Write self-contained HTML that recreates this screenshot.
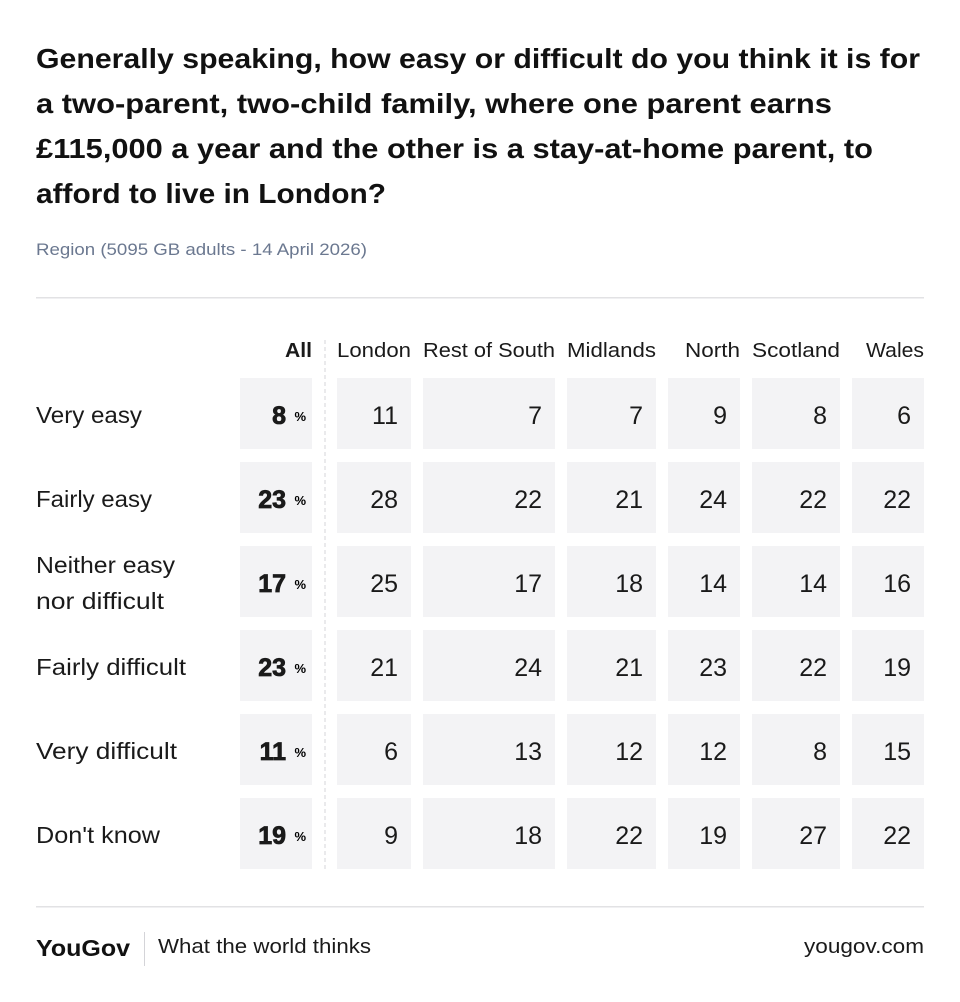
<!DOCTYPE html>
<html><head><meta charset="utf-8"><style>
html,body{margin:0;padding:0;background:#fff}
svg{display:block}
text{font-family:"Liberation Sans",sans-serif}
</style></head><body>
<svg width="960" height="1002" viewBox="0 0 960 1002" xmlns="http://www.w3.org/2000/svg">
<g font-weight="bold" font-size="28" fill="#111">
<text x="36" y="68" textLength="884" lengthAdjust="spacingAndGlyphs">Generally speaking, how easy or difficult do you think it is for</text>
<text x="36" y="113" textLength="796" lengthAdjust="spacingAndGlyphs">a two-parent, two-child family, where one parent earns</text>
<text x="36" y="158" textLength="837" lengthAdjust="spacingAndGlyphs">£115,000 a year and the other is a stay-at-home parent, to</text>
<text x="36" y="203" textLength="350" lengthAdjust="spacingAndGlyphs">afford to live in London?</text>
</g>
<text x="36" y="255" font-size="16.5" fill="#6b7890" textLength="331" lengthAdjust="spacingAndGlyphs">Region (5095 GB adults - 14 April 2026)</text>
<rect x="36" y="297" width="888" height="1.5" fill="#e2e2e4"/>
<line x1="325" y1="340" x2="325" y2="870" stroke="#d4d4d8" stroke-width="1" stroke-dasharray="4,3"/>
<g font-size="20" fill="#1a1a1a" lengthAdjust="spacingAndGlyphs">
<text x="285" y="357" font-weight="bold" textLength="27" lengthAdjust="spacingAndGlyphs">All</text>
<text x="337" y="357" textLength="74" lengthAdjust="spacingAndGlyphs">London</text>
<text x="423" y="357" textLength="132" lengthAdjust="spacingAndGlyphs">Rest of South</text>
<text x="567" y="357" textLength="89" lengthAdjust="spacingAndGlyphs">Midlands</text>
<text x="685" y="357" textLength="55" lengthAdjust="spacingAndGlyphs">North</text>
<text x="752" y="357" textLength="88" lengthAdjust="spacingAndGlyphs">Scotland</text>
<text x="866" y="357" textLength="58" lengthAdjust="spacingAndGlyphs">Wales</text>
</g>
<g font-size="23" fill="#1a1a1a">
<text x="36" y="423" textLength="106" lengthAdjust="spacingAndGlyphs">Very easy</text>
<text x="36" y="507" textLength="116" lengthAdjust="spacingAndGlyphs">Fairly easy</text>
<text x="36" y="573" textLength="139" lengthAdjust="spacingAndGlyphs">Neither easy</text>
<text x="36" y="609" textLength="128" lengthAdjust="spacingAndGlyphs">nor difficult</text>
<text x="36" y="675" textLength="150" lengthAdjust="spacingAndGlyphs">Fairly difficult</text>
<text x="36" y="759" textLength="141" lengthAdjust="spacingAndGlyphs">Very difficult</text>
<text x="36" y="843" textLength="124" lengthAdjust="spacingAndGlyphs">Don't know</text>
</g>
<g id="cells"></g>
<script>
(function(){
var xs=[[240,312],[337,411],[423,555],[567,656],[668,740],[752,840],[852,924]];
var data=[[8,11,7,7,9,8,6],[23,28,22,21,24,22,22],[17,25,17,18,14,14,16],[23,21,24,21,23,22,19],[11,6,13,12,12,8,15],[19,9,18,22,19,27,22]];
var ns="http://www.w3.org/2000/svg",svg=document.querySelector('svg'),g=document.getElementById('cells');
for(var r=0;r<6;r++){var y=378+r*84;
for(var c=0;c<7;c++){
var rc=document.createElementNS(ns,'rect');rc.setAttribute('x',xs[c][0]);rc.setAttribute('y',y);rc.setAttribute('width',xs[c][1]-xs[c][0]);rc.setAttribute('height',71);rc.setAttribute('fill','#f3f3f5');g.appendChild(rc);
var t=document.createElementNS(ns,'text');t.setAttribute('y',y+46);t.setAttribute('text-anchor','end');t.setAttribute('fill','#1a1a1a');
if(c==0){t.setAttribute('x',xs[c][1]-26);t.setAttribute('font-size','25');t.setAttribute('font-weight','bold');t.setAttribute('stroke','#1a1a1a');t.setAttribute('stroke-width','0.8');t.textContent=data[r][c];
var p=document.createElementNS(ns,'text');p.setAttribute('x',xs[c][1]-6);p.setAttribute('y',y+43);p.setAttribute('text-anchor','end');p.setAttribute('font-size','13');p.setAttribute('font-weight','bold');p.textContent='%';g.appendChild(p);}
else{t.setAttribute('x',xs[c][1]-13);t.setAttribute('font-size','25');t.textContent=data[r][c];}
g.appendChild(t);}}
})();
</script>
<rect x="36" y="906" width="888" height="1.5" fill="#e2e2e4"/>
<text x="36" y="956" font-size="23" font-weight="bold" fill="#111" textLength="94" lengthAdjust="spacingAndGlyphs">YouGov</text>
<rect x="144" y="932" width="1" height="34" fill="#d4d4d8"/>
<text x="158" y="953" font-size="20" fill="#1a1a1a" textLength="213" lengthAdjust="spacingAndGlyphs">What the world thinks</text>
<text x="804" y="953" font-size="20" fill="#1a1a1a" textLength="120" lengthAdjust="spacingAndGlyphs">yougov.com</text>
</svg>
</body></html>
